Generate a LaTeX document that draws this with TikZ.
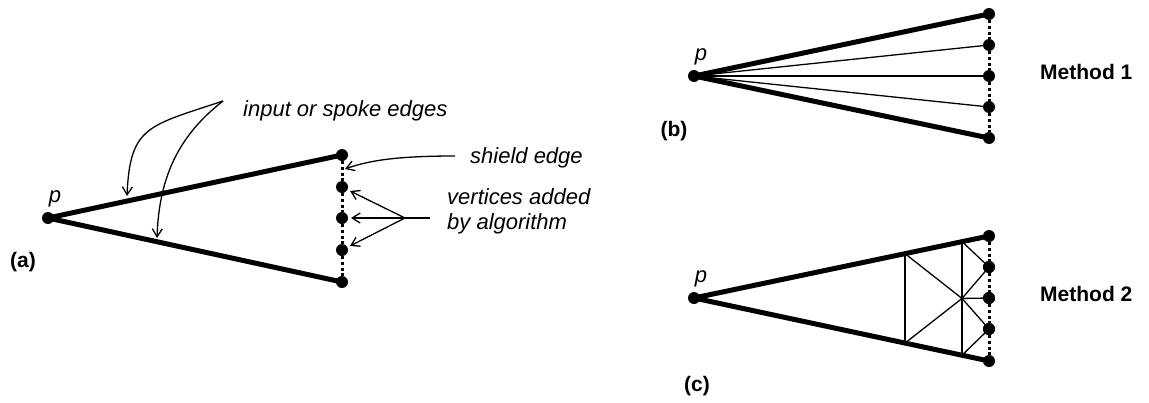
\documentclass[tikz,border=0pt]{standalone}
\usepackage{fontspec}
\setmainfont{Liberation Sans}
\usetikzlibrary{arrows.meta,calc}
\begin{document}
\begin{tikzpicture}[x=1pt,y=-1pt,
  dot/.style={circle,fill=black,draw=none,inner sep=0pt,minimum size=12pt,outer sep=0pt},
  spoke/.style={line width=5pt},
  thin/.style={line width=1.3pt},
  shield/.style={line width=3pt,dash pattern=on 3.2pt off 2.6pt},
  callout/.style={line width=1.3pt,-{Straight Barb[length=8pt,width=10pt]}},
  lbl/.style={font=\itshape\fontsize{22}{25}\selectfont,inner sep=0pt},
  plbl/.style={font=\itshape\fontsize{22}{25}\selectfont,inner sep=0pt},
  tag/.style={font=\bfseries\fontsize{21}{24}\selectfont,inner sep=0pt}]
\useasboundingbox (0,0) rectangle (1149,402);

% ---------- (a) ----------
\node[dot] (pa) at (48,218) {};
\node[dot] (a1) at (342,155) {};
\node[dot] (a2) at (342,187) {};
\node[dot] (a3) at (342,218) {};
\node[dot] (a4) at (342,250) {};
\node[dot] (a5) at (342,282) {};
\draw[spoke] (pa.center) -- (a1.center);
\draw[spoke] (pa.center) -- (a5.center);
\draw[shield] (a1) -- (a2) -- (a3) -- (a4) -- (a5);
\node[plbl] (pla) at (55,199) {p};
\node[tag] (taga) at (23,262) {(a)};

\node[lbl,anchor=base west] (tin) at (243,116) {input or spoke edges};
\coordinate (sin) at (223,101);
\coordinate (e1) at (127,196);
\coordinate (e2) at (157,238);
\draw[callout] (sin) .. controls +(-75,25) and +(3,-70) .. (e1);
\draw[callout] (sin) .. controls +(-45,35) and +(2,-60) .. (e2);

\node[lbl,anchor=base west] (tsh) at (470,163) {shield edge};
\coordinate (ssh) at (455,156);
\coordinate (esh) at (345,169);
\draw[callout] (ssh) .. controls +(-55,0) and +(25,-9) .. (esh);

\node[lbl,anchor=base west,align=left] (tva) at (447,229) {vertices added\\by algorithm};
\coordinate (vt) at (430,218);
\coordinate (vj) at (405,218);
\draw[line width=1.3pt] (vt) -- (vj);
\draw[callout,shorten >=3pt] (vj) -- (a2);
\draw[callout,shorten >=3pt] (vj) -- (a3);
\draw[callout,shorten >=3pt] (vj) -- (a4);

% ---------- (b) ----------
\node[dot] (pb) at (694,76) {};
\node[dot] (b1) at (989,14) {};
\node[dot] (b2) at (989,45) {};
\node[dot] (b3) at (989,76) {};
\node[dot] (b4) at (989,107) {};
\node[dot] (b5) at (989,138) {};
\draw[spoke] (pb.center) -- (b1.center);
\draw[spoke] (pb.center) -- (b5.center);
\draw[thin] (pb.center) -- (b2.center);
\draw[thin] (pb.center) -- (b3.center);
\draw[thin] (pb.center) -- (b4.center);
\draw[shield] (b1) -- (b2) -- (b3) -- (b4) -- (b5);
\node[plbl] (plb) at (701,57) {p};
\node[tag] (tagb) at (674,131) {(b)};
\node[tag,anchor=base west] (m1) at (1040,79) {Method 1};

% ---------- (c) ----------
\node[dot] (pc) at (694,298) {};
\node[dot] (c1) at (989,236) {};
\node[dot] (c2) at (989,267) {};
\node[dot] (c3) at (989,298) {};
\node[dot] (c4) at (989,329) {};
\node[dot] (c5) at (989,361) {};
\coordinate (u1) at ($(pc)!0.7153!(c1)$);
\coordinate (l1) at ($(pc)!0.7153!(c5)$);
\coordinate (u2) at ($(pc)!0.9085!(c1)$);
\coordinate (l2) at ($(pc)!0.9085!(c5)$);
\coordinate (cc) at ($(u2)!0.5!(l2)$);
\draw[thin] (u1) -- (l1);
\draw[thin] (u2) -- (l2);
\draw[thin] (u1) -- (cc) -- (l1);
\draw[thin] (u2) -- (c2.center) -- (cc) -- (c3.center);
\draw[thin] (l2) -- (c4.center) -- (cc);
\draw[spoke] (pc.center) -- (c1.center);
\draw[spoke] (pc.center) -- (c5.center);
\draw[shield] (c1) -- (c2) -- (c3) -- (c4) -- (c5);
\node[dot] at (c2) {};
\node[dot] at (c3) {};
\node[dot] at (c4) {};
\node[plbl] (plc) at (701,279) {p};
\node[tag] (tagc) at (697,386) {(c)};
\node[tag,anchor=base west] (m2) at (1040,301) {Method 2};
\end{tikzpicture}
\end{document}
